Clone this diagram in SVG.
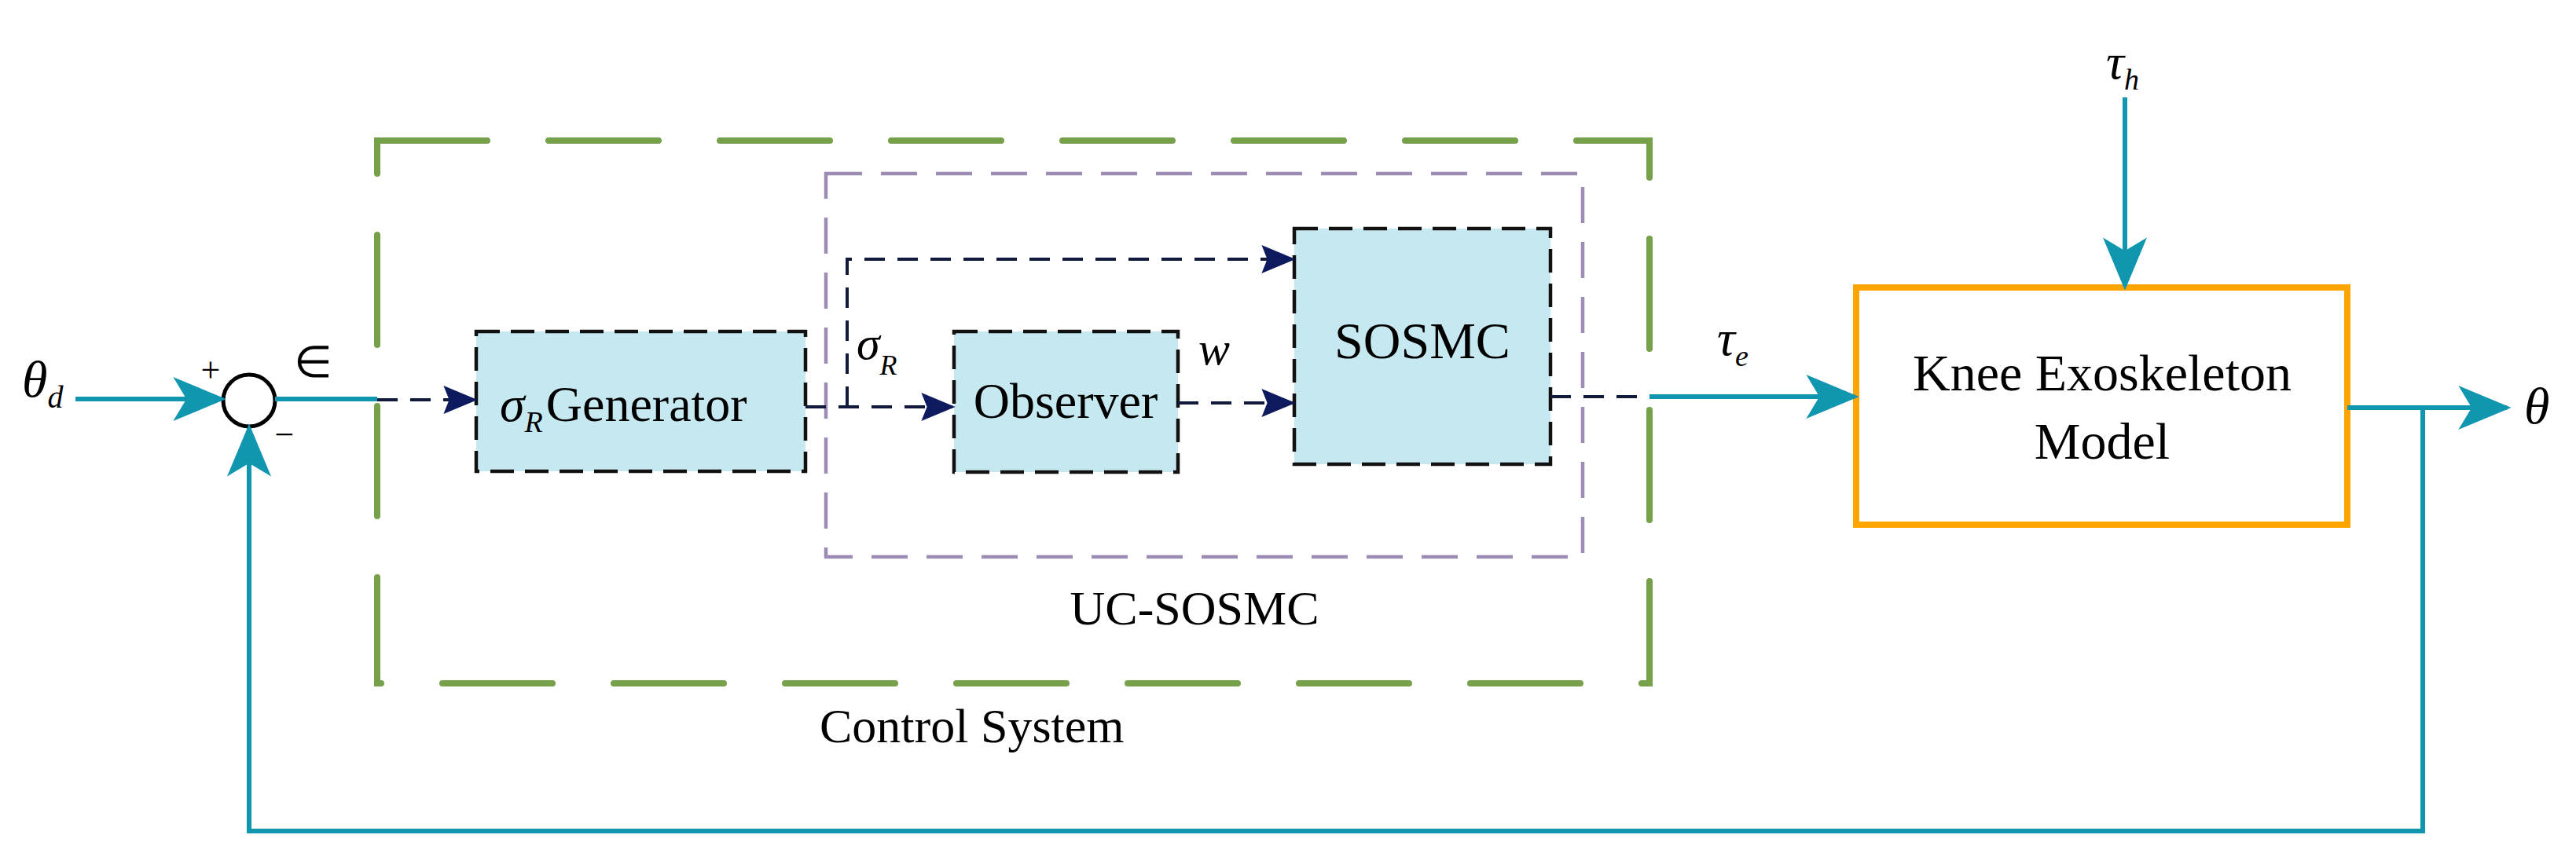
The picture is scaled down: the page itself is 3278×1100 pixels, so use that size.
<svg xmlns="http://www.w3.org/2000/svg" width="3278" height="1100" viewBox="0 0 3278 1100">
<style>
text{font-family:"Liberation Serif","Times New Roman",serif;fill:#000}
.it{font-style:italic}
.blk{fill:#c6e9f1;stroke:#111;stroke-width:4.5;stroke-dasharray:30 14}
.cy{fill:none;stroke:#1196b0;stroke-width:6}
.dk{fill:none;stroke:#111a3a;stroke-width:4;stroke-dasharray:26 16}
</style>
<defs>
<marker id="ac" viewBox="0 0 12 10" refX="11" refY="5" markerWidth="68" markerHeight="56" markerUnits="userSpaceOnUse" orient="auto">
<path d="M0,0 L12,5 L0,10 L3,5 Z" fill="#1196b0"/></marker>
<marker id="ad" viewBox="0 0 12 10" refX="11" refY="5" markerWidth="44" markerHeight="36" markerUnits="userSpaceOnUse" orient="auto">
<path d="M0,0 L12,5 L0,10 L2,5 Z" fill="#0d1a5e"/></marker>
</defs>
<g id="control-system">
<rect x="480" y="179" width="1619" height="691" fill="none" stroke="#77a04a" stroke-width="8" stroke-linecap="round" stroke-dasharray="140 78"/>
<text x="1043" y="945" font-size="62">Control System</text>
</g>
<g id="uc-sosmc">
<rect x="1051" y="221" width="963" height="488" fill="none" stroke="#9d8db5" stroke-width="4.5" stroke-dasharray="46 24"/>
<text x="1520" y="795" font-size="62" text-anchor="middle">UC-SOSMC</text>
</g>
<g id="sum">
<circle cx="317" cy="510" r="33" fill="#fff" stroke="#000" stroke-width="5"/>
<text x="268" y="486" font-size="44" text-anchor="middle">+</text>
<text x="362" y="568" font-size="44" text-anchor="middle">−</text>
</g>
<g id="generator">
<rect class="blk" x="606" y="422" width="419" height="178"/>
<text x="636" y="536" font-size="64"><tspan class="it">σ</tspan><tspan class="it" font-size="38" dy="14">R</tspan><tspan dy="-14" dx="4">Generator</tspan></text>
</g>
<g id="observer">
<rect class="blk" x="1214" y="422" width="285" height="179"/>
<text x="1356" y="532" font-size="64" text-anchor="middle">Observer</text>
</g>
<g id="sosmc">
<rect class="blk" x="1647" y="291" width="326" height="300"/>
<text x="1810" y="456" font-size="66" text-anchor="middle">SOSMC</text>
</g>
<g id="knee">
<rect x="2362" y="366" width="625" height="302" fill="#fff" stroke="#ffa500" stroke-width="8"/>
<text x="2675" y="497" font-size="66" text-anchor="middle">Knee Exoskeleton</text>
<text x="2675" y="584" font-size="66" text-anchor="middle">Model</text>
</g>
<g id="connectors">
<line class="cy" x1="96" y1="508" x2="282" y2="508" marker-end="url(#ac)"/>
<line class="cy" x1="350" y1="508" x2="480" y2="508"/>
<line class="dk" x1="480" y1="509" x2="604" y2="509" marker-end="url(#ad)"/>
<line class="dk" x1="1025" y1="518" x2="1212" y2="518" marker-end="url(#ad)"/>
<polyline class="dk" points="1078,518 1078,330 1645,330" marker-end="url(#ad)"/>
<line class="dk" x1="1499" y1="513" x2="1645" y2="513" marker-end="url(#ad)"/>
<line class="dk" x1="1973" y1="505" x2="2099" y2="505"/>
<line class="cy" x1="2099" y1="505" x2="2360" y2="505" marker-end="url(#ac)"/>
<line class="cy" x1="2704" y1="124" x2="2704" y2="364" marker-end="url(#ac)"/>
<line class="cy" x1="2987" y1="519" x2="3190" y2="519" marker-end="url(#ac)"/>
<polyline class="cy" points="3083,519 3083,1058 317,1058 317,545" marker-end="url(#ac)"/>
</g>
<g id="labels">
<text class="it" x="28" y="505" font-size="66">θ<tspan font-size="40" dy="14">d</tspan></text>
<text x="374" y="480" font-size="56">∈</text>
<text class="it" x="1090" y="457" font-size="60">σ<tspan font-size="36" dy="20">R</tspan></text>
<text class="it" x="1525" y="464" font-size="60">w</text>
<text class="it" x="2185" y="452" font-size="64">τ<tspan font-size="38" dy="14">e</tspan></text>
<text class="it" x="2680" y="100" font-size="64">τ<tspan font-size="38" dy="14">h</tspan></text>
<text class="it" x="3212" y="539" font-size="66">θ</text>
</g>
</svg>
